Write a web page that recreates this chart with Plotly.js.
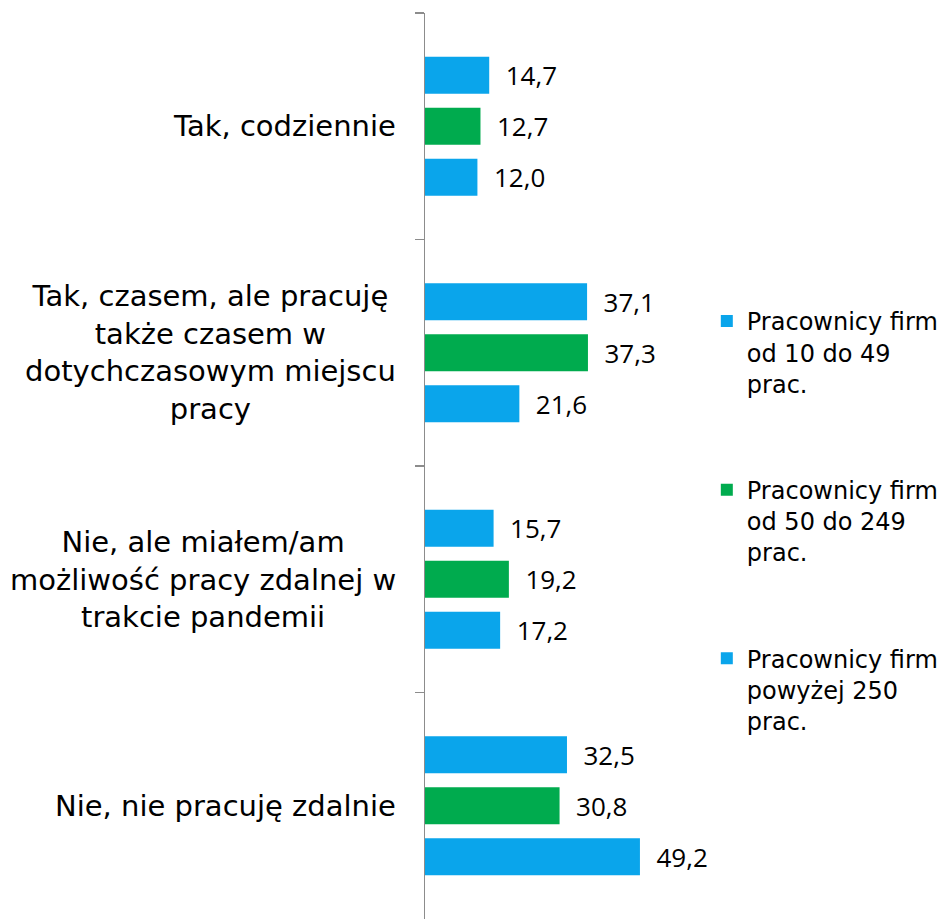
<!DOCTYPE html>
<html>
<head>
<meta charset="utf-8">
<script src="https://cdn.plot.ly/plotly-3.0.1.min.js"></script>
<style>html,body{margin:0;padding:0;background:#fff;}#chart{width:944px;height:919px;}</style>
</head>
<body>
<div id="chart"></div>
<script>
var categories = [
  "Tak, codziennie",
  "Tak, czasem, ale pracuję<br>także czasem w<br>dotychczasowym miejscu<br>pracy",
  "Nie, ale miałem/am<br>możliwość pracy zdalnej w<br>trakcie pandemii",
  "Nie, nie pracuję zdalnie"
];
var seriesNames = [
  "Pracownicy firm<br>od 10 do 49<br>prac.",
  "Pracownicy firm<br>od 50 do 249<br>prac.",
  "Pracownicy firm<br>powyżej 250<br>prac."
];
var small = [14.7, 37.1, 15.7, 32.5];
var medium = [12.7, 37.3, 19.2, 30.8];
var large = [12.0, 21.6, 17.2, 49.2];
var seriesValues = [small, medium, large];
var seriesColors = ["#0AA5EB", "#00AB4E", "#0AA5EB"];

var traces = seriesValues.map(function (vals, i) {
  return {
    type: "bar",
    orientation: "h",
    x: vals,
    y: categories,
    name: seriesNames[i],
    legendgroup: "g" + i,
    marker: { color: seriesColors[i] },
    texttemplate: "\u00a0\u00a0%{x:.1f}",
    textposition: "outside",
    constraintext: "none",
    cliponaxis: false,
    textfont: { family: "Open Sans", size: 26, color: "#000" },
    hoverinfo: "none"
  };
});

var annotations = categories.map(function (c) {
  return {
    x: 0, xref: "paper", xanchor: "right", xshift: -27,
    y: c, yref: "y", yanchor: "middle",
    text: c, showarrow: false, align: "center",
    font: { family: "DejaVu Sans", size: 29, color: "#000" }
  };
});

var layout = {
  width: 944, height: 919,
  margin: { l: 425, r: 0, t: 13, b: 0 },
  paper_bgcolor: "#fff", plot_bgcolor: "#fff",
  barmode: "group",
  bargap: 0.325,
  bargroupgap: 0.275,
  separators: ", ",
  showlegend: true,
  legend: {
    x: 0.543, xanchor: "left", y: 0.6844, yanchor: "top",
    traceorder: "grouped", tracegroupgap: 72, valign: "top",
    font: { family: "DejaVu Sans", size: 24, color: "#000" },
    bgcolor: "rgba(0,0,0,0)"
  },
  xaxis: { visible: false, range: [0, 118.8], fixedrange: true },
  yaxis: {
    type: "category", autorange: "reversed",
    showticklabels: false, showgrid: false, zeroline: false,
    showline: true, linecolor: "#8c8c8c", linewidth: 1.5,
    ticks: "outside", tickson: "boundaries", ticklen: 9,
    tickcolor: "#8c8c8c", tickwidth: 1.5
  },
  annotations: annotations
};

Plotly.newPlot("chart", traces, layout, { displayModeBar: false, staticPlot: true });
</script>
</body>
</html>
